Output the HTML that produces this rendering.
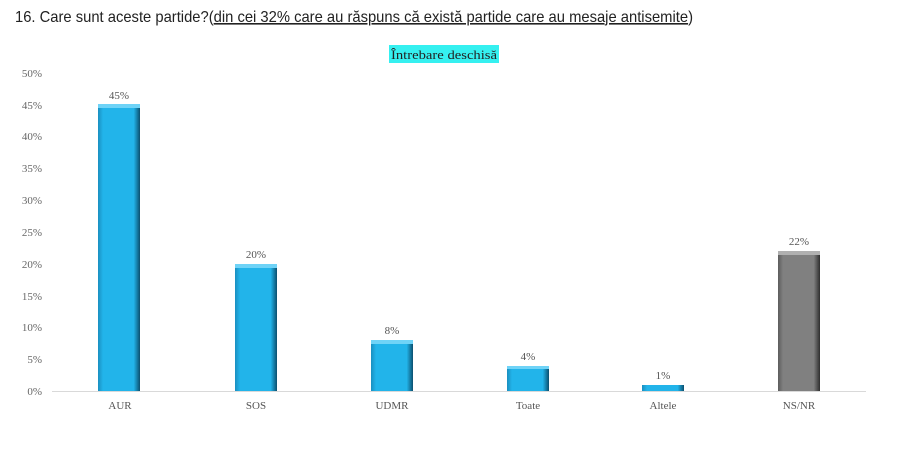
<!DOCTYPE html>
<html><head><meta charset="utf-8"><style>
body{margin:0;background:#fff;width:900px;height:444px;overflow:hidden}
</style></head><body>
<svg width="900" height="444" xmlns="http://www.w3.org/2000/svg" font-family="Liberation Serif, DejaVu Serif, serif">
<defs>
<linearGradient id="b" x1="0" x2="1" y1="0" y2="0">
<stop offset="0" stop-color="#1a8fc0"/><stop offset="0.12" stop-color="#22b4ea"/><stop offset="0.85" stop-color="#22b4ea"/><stop offset="1" stop-color="#0b4f6e"/></linearGradient>
<linearGradient id="g" x1="0" x2="1" y1="0" y2="0">
<stop offset="0" stop-color="#5c5c5c"/><stop offset="0.12" stop-color="#808080"/><stop offset="0.85" stop-color="#808080"/><stop offset="1" stop-color="#2e2e2e"/></linearGradient>
</defs>
<text x="15" y="22" font-family="Liberation Sans, sans-serif" font-size="16" fill="#222" textLength="678" lengthAdjust="spacingAndGlyphs">16. Care sunt aceste partide?(<tspan text-decoration="underline">din cei 32% care au răspuns că există partide care au mesaje antisemite</tspan>)</text>
<rect x="389" y="45" width="110" height="18" fill="#35f0f0"/>
<text x="444" y="59" text-anchor="middle" font-size="13" fill="#222" textLength="106" lengthAdjust="spacingAndGlyphs">Întrebare deschisă</text>
<g font-size="11" fill="#666" text-anchor="end">
<text x="42" y="77">50%</text><text x="42" y="109">45%</text><text x="42" y="140">40%</text><text x="42" y="172">35%</text><text x="42" y="204">30%</text><text x="42" y="236">25%</text><text x="42" y="268">20%</text><text x="42" y="300">15%</text><text x="42" y="331">10%</text><text x="42" y="363">5%</text><text x="42" y="395">0%</text>
</g>
<line x1="52" y1="391.5" x2="866" y2="391.5" stroke="#d9d9d9"/>
<g>
<rect x="98" y="104" width="42" height="287" fill="url(#b)"/><rect x="98" y="104" width="42" height="4" fill="#6fd3f7"/>
<rect x="235" y="264" width="42" height="127" fill="url(#b)"/><rect x="235" y="264" width="42" height="4" fill="#6fd3f7"/>
<rect x="371" y="340" width="42" height="51" fill="url(#b)"/><rect x="371" y="340" width="42" height="4" fill="#6fd3f7"/>
<rect x="507" y="366" width="42" height="25" fill="url(#b)"/><rect x="507" y="366" width="42" height="3" fill="#6fd3f7"/>
<rect x="642" y="385" width="42" height="6" fill="url(#b)"/>
<rect x="778" y="251" width="42" height="140" fill="url(#g)"/><rect x="778" y="251" width="42" height="4" fill="#b0b0b0"/>
</g>
<g font-size="11" fill="#555" text-anchor="middle">
<text x="119" y="99">45%</text><text x="256" y="258">20%</text><text x="392" y="334">8%</text><text x="528" y="360">4%</text><text x="663" y="379">1%</text><text x="799" y="245">22%</text>
</g>
<g font-size="11" fill="#555" text-anchor="middle">
<text x="120" y="409">AUR</text><text x="256" y="409">SOS</text><text x="392" y="409">UDMR</text><text x="528" y="409">Toate</text><text x="663" y="409">Altele</text><text x="799" y="409">NS/NR</text>
</g>
</svg>
</body></html>
